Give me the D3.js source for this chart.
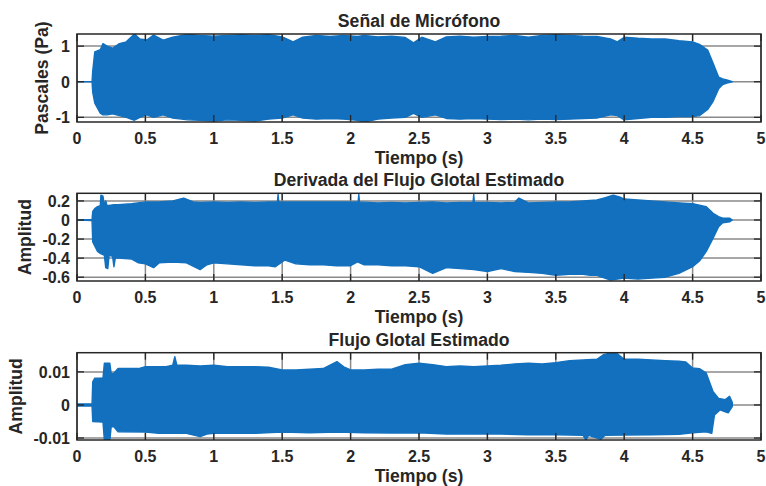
<!DOCTYPE html>
<html>
<head>
<meta charset="utf-8">
<script src="https://cdn.jsdelivr.net/npm/d3@7"></script>
<style>
html,body{margin:0;padding:0;background:#fff;}
svg{display:block;}
text{font-family:"Liberation Sans",Arial,Helvetica,sans-serif;font-weight:bold;fill:#262626;}
</style>
</head>
<body>
<svg id="chart" width="766" height="486"></svg>
<script>
// ---------- DATA ----------
const titles = ["Señal de Micrófono", "Derivada del Flujo Glotal Estimado", "Flujo Glotal Estimado"];
const yLabels = ["Pascales (Pa)", "Amplitud", "Amplitud"];
const xLabel = "Tiempo (s)";
const xTicks = [0, 0.5, 1, 1.5, 2, 2.5, 3, 3.5, 4, 4.5, 5];
const micTicks = [-1, 0, 1];
const derivTicks = [-0.6, -0.4, -0.2, 0, 0.2];
const flowTicks = [-0.01, 0, 0.01];
const micLimits = [-1.13, 1.34];
const derivLimits = [-0.64, 0.28];
const flowLimits = [-0.0106, 0.0158];

// envelopes of the waveforms: [time (s), value]
const micUpper = [[0,0],[0.11,0],[0.115,0.3],[0.13,0.84],[0.17,0.9],[0.19,1.07],[0.22,1.0],[0.26,0.94],[0.31,1.07],[0.36,1.12],[0.42,1.34],[0.46,1.2],[0.51,1.17],[0.56,1.31],[0.63,1.17],[0.7,1.25],[0.81,1.33],[0.9,1.3],[1.0,1.28],[1.1,1.3],[1.2,1.32],[1.3,1.3],[1.4,1.32],[1.5,1.26],[1.58,1.12],[1.65,1.25],[1.75,1.3],[1.85,1.27],[1.95,1.3],[2.05,1.27],[2.1,1.3],[2.2,1.26],[2.3,1.28],[2.4,1.24],[2.46,1.09],[2.52,1.25],[2.62,1.12],[2.7,1.26],[2.8,1.28],[2.9,1.25],[3.0,1.27],[3.1,1.28],[3.2,1.3],[3.3,1.25],[3.4,1.3],[3.5,1.32],[3.6,1.3],[3.7,1.28],[3.8,1.27],[3.9,1.2],[3.95,1.12],[4.0,1.25],[4.1,1.22],[4.2,1.2],[4.3,1.2],[4.4,1.15],[4.5,1.12],[4.55,1.05],[4.61,0.89],[4.65,0.52],[4.69,0.13],[4.72,0.08],[4.75,0.05],[4.79,0.0]];
const micLower = [[0,0],[0.11,0],[0.115,-0.3],[0.13,-0.6],[0.17,-0.88],[0.19,-0.93],[0.22,-0.93],[0.26,-0.9],[0.31,-0.95],[0.36,-1.0],[0.42,-1.08],[0.46,-1.0],[0.51,-0.93],[0.56,-1.0],[0.63,-0.93],[0.7,-1.02],[0.81,-1.07],[0.9,-1.08],[1.0,-1.1],[1.1,-1.07],[1.2,-1.08],[1.3,-1.1],[1.4,-1.05],[1.5,-1.02],[1.58,-0.93],[1.65,-1.02],[1.75,-1.05],[1.85,-1.03],[1.95,-1.05],[2.05,-1.08],[2.1,-1.13],[2.2,-1.05],[2.3,-1.02],[2.4,-1.0],[2.46,-0.89],[2.52,-1.0],[2.62,-0.93],[2.7,-1.03],[2.8,-1.05],[2.9,-1.03],[3.0,-1.05],[3.1,-1.06],[3.2,-1.05],[3.3,-1.07],[3.4,-1.05],[3.5,-1.06],[3.6,-1.05],[3.7,-1.03],[3.8,-1.02],[3.9,-0.93],[3.95,-0.95],[4.0,-1.07],[4.1,-1.03],[4.2,-1.0],[4.3,-1.0],[4.4,-0.98],[4.5,-0.98],[4.55,-0.95],[4.61,-0.78],[4.65,-0.55],[4.69,-0.2],[4.72,-0.08],[4.75,-0.04],[4.79,0]];

const derivUpper = [[0,0],[0.11,0.005],[0.115,0.09],[0.13,0.12],[0.15,0.14],[0.17,0.15],[0.175,0.26],[0.19,0.25],[0.2,0.15],[0.21,0.2],[0.22,0.15],[0.27,0.16],[0.3,0.16],[0.4,0.17],[0.5,0.19],[0.6,0.19],[0.7,0.2],[0.78,0.23],[0.85,0.19],[0.9,0.185],[1.0,0.19],[1.1,0.185],[1.2,0.19],[1.3,0.185],[1.4,0.19],[1.465,0.19],[1.47,0.27],[1.475,0.19],[1.6,0.19],[1.7,0.19],[1.8,0.19],[1.9,0.19],[2.0,0.19],[2.055,0.19],[2.06,0.27],[2.065,0.19],[2.2,0.18],[2.3,0.185],[2.4,0.18],[2.5,0.185],[2.6,0.19],[2.7,0.18],[2.8,0.185],[2.895,0.185],[2.9,0.27],[2.905,0.185],[3.0,0.185],[3.1,0.18],[3.2,0.185],[3.23,0.23],[3.3,0.18],[3.4,0.185],[3.5,0.19],[3.6,0.19],[3.7,0.2],[3.8,0.21],[3.85,0.23],[3.92,0.26],[3.97,0.24],[4.0,0.22],[4.1,0.21],[4.2,0.2],[4.3,0.19],[4.4,0.18],[4.5,0.17],[4.6,0.14],[4.65,0.07],[4.69,0.035],[4.72,0.02],[4.77,0.02],[4.79,0]];
const derivLower = [[0,0],[0.11,-0.005],[0.115,-0.23],[0.15,-0.33],[0.17,-0.35],[0.2,-0.37],[0.21,-0.5],[0.225,-0.51],[0.235,-0.37],[0.26,-0.38],[0.27,-0.49],[0.28,-0.4],[0.3,-0.4],[0.4,-0.41],[0.45,-0.45],[0.5,-0.46],[0.56,-0.5],[0.6,-0.45],[0.7,-0.44],[0.8,-0.45],[0.9,-0.52],[0.95,-0.47],[1.0,-0.45],[1.1,-0.46],[1.2,-0.47],[1.3,-0.48],[1.4,-0.48],[1.45,-0.49],[1.52,-0.42],[1.6,-0.46],[1.7,-0.47],[1.8,-0.47],[1.9,-0.48],[2.0,-0.48],[2.05,-0.44],[2.1,-0.47],[2.2,-0.47],[2.3,-0.48],[2.4,-0.48],[2.5,-0.49],[2.6,-0.56],[2.7,-0.5],[2.8,-0.51],[2.9,-0.52],[3.0,-0.54],[3.1,-0.51],[3.2,-0.54],[3.3,-0.55],[3.4,-0.56],[3.5,-0.58],[3.6,-0.57],[3.7,-0.57],[3.75,-0.58],[3.8,-0.58],[3.9,-0.63],[4.0,-0.61],[4.1,-0.62],[4.2,-0.61],[4.3,-0.6],[4.4,-0.56],[4.5,-0.49],[4.55,-0.43],[4.6,-0.33],[4.65,-0.19],[4.69,-0.07],[4.72,-0.03],[4.77,-0.02],[4.79,0]];

const flowUpper = [[0,0.0003],[0.11,0.0003],[0.115,0.007],[0.13,0.0081],[0.19,0.0082],[0.2,0.0126],[0.24,0.0126],[0.25,0.0095],[0.27,0.0096],[0.3,0.011],[0.45,0.011],[0.5,0.0116],[0.65,0.0116],[0.7,0.012],[0.715,0.0146],[0.73,0.012],[0.8,0.012],[0.9,0.0118],[1.0,0.012],[1.1,0.0116],[1.3,0.0116],[1.4,0.0114],[1.5,0.0106],[1.6,0.0106],[1.7,0.0108],[1.8,0.011],[1.9,0.0131],[1.95,0.0115],[2.0,0.0106],[2.1,0.0106],[2.2,0.0108],[2.3,0.0108],[2.4,0.0122],[2.5,0.0126],[2.6,0.0122],[2.7,0.0116],[2.8,0.0118],[2.9,0.0116],[3.0,0.0118],[3.1,0.012],[3.2,0.0124],[3.3,0.0126],[3.4,0.0124],[3.5,0.0128],[3.6,0.0134],[3.7,0.0136],[3.8,0.0138],[3.85,0.0152],[3.9,0.0157],[3.95,0.0155],[4.0,0.0138],[4.1,0.0138],[4.2,0.0136],[4.3,0.0134],[4.4,0.0132],[4.45,0.013],[4.5,0.0112],[4.55,0.011],[4.6,0.0096],[4.65,0.004],[4.69,0.002],[4.74,0.0016],[4.77,0.0026],[4.79,0.0008]];
const flowLower = [[0,-0.0003],[0.11,-0.0003],[0.115,-0.005],[0.19,-0.0052],[0.2,-0.0106],[0.24,-0.0106],[0.25,-0.0066],[0.27,-0.0066],[0.3,-0.0081],[0.5,-0.0082],[0.6,-0.0086],[0.8,-0.0086],[0.9,-0.0096],[0.95,-0.0088],[1.0,-0.0086],[1.3,-0.0086],[1.5,-0.0082],[1.7,-0.0084],[1.9,-0.0082],[2.1,-0.0084],[2.3,-0.0085],[2.5,-0.0084],[2.7,-0.0088],[2.9,-0.0087],[3.1,-0.0088],[3.3,-0.009],[3.5,-0.009],[3.7,-0.0092],[3.72,-0.0106],[3.74,-0.0092],[3.83,-0.0104],[3.86,-0.0092],[4.0,-0.0091],[4.2,-0.009],[4.4,-0.0089],[4.5,-0.0084],[4.6,-0.0081],[4.64,-0.0086],[4.66,-0.003],[4.7,-0.0015],[4.76,-0.0024],[4.79,-0.0005]];

// ---------- DRAWING ----------
const svg = d3.select("#chart");
const left = 77, right = 761;
const boxes = [
  {top: 34, bottom: 122, lim: micLimits, ticks: micTicks, up: micUpper, lo: micLower, ylabX: 48},
  {top: 193.3, bottom: 281, lim: derivLimits, ticks: derivTicks, up: derivUpper, lo: derivLower, ylabX: 31.4},
  {top: 352.7, bottom: 440, lim: flowLimits, ticks: flowTicks, up: flowUpper, lo: flowLower, ylabX: 22.4}
];
const blue = "#1270BE";
const axisCol = "#262626";
const gridCol = "#8a8a8a";
const fmt = v => {
  let s = d3.format("~g")(v);
  if (Math.abs(v) < 1e-12) s = "0";
  return s.replace("−", "-");
};

boxes.forEach((b, i) => {
  const x = d3.scaleLinear().domain([0, 5]).range([left, right]);
  const y = d3.scaleLinear().domain(b.lim).range([b.bottom, b.top]);
  const g = svg.append("g");
  const clipId = "clip" + i;
  svg.append("clipPath").attr("id", clipId).append("rect")
    .attr("x", left).attr("y", b.top).attr("width", right - left).attr("height", b.bottom - b.top);

  // grid
  g.append("g").selectAll("line").data(xTicks).join("line")
    .attr("x1", d => x(d)).attr("x2", d => x(d)).attr("y1", b.top).attr("y2", b.bottom)
    .attr("stroke", gridCol).attr("stroke-width", 1.5);
  g.append("g").selectAll("line").data(b.ticks).join("line")
    .attr("x1", left).attr("x2", right).attr("y1", d => y(d)).attr("y2", d => y(d))
    .attr("stroke", gridCol).attr("stroke-width", 1.5);

  // waveform envelope
  const pts = b.up.concat(b.lo.slice().reverse());
  const line = d3.line().x(d => x(d[0])).y(d => y(d[1]));
  g.append("path").attr("d", line(pts) + "Z")
    .attr("clip-path", `url(#${clipId})`)
    .attr("fill", blue).attr("stroke", blue).attr("stroke-width", 1.4).attr("stroke-linejoin", "round");

  // ticks (inside) on all four sides
  const tl = 7;
  const tk = g.append("g").attr("stroke", axisCol).attr("stroke-width", 1.3);
  xTicks.forEach(t => {
    tk.append("line").attr("x1", x(t)).attr("x2", x(t)).attr("y1", b.bottom).attr("y2", b.bottom - tl);
    tk.append("line").attr("x1", x(t)).attr("x2", x(t)).attr("y1", b.top).attr("y2", b.top + tl);
  });
  b.ticks.forEach(t => {
    tk.append("line").attr("x1", left).attr("x2", left + tl).attr("y1", y(t)).attr("y2", y(t));
    tk.append("line").attr("x1", right).attr("x2", right - tl).attr("y1", y(t)).attr("y2", y(t));
  });

  // box
  g.append("rect").attr("x", left).attr("y", b.top).attr("width", right - left).attr("height", b.bottom - b.top)
    .attr("fill", "none").attr("stroke", axisCol).attr("stroke-width", 1.5);

  // tick labels
  g.append("g").selectAll("text").data(xTicks).join("text")
    .attr("x", d => x(d)).attr("y", b.bottom + 21.5)
    .attr("text-anchor", "middle").attr("font-size", 16).text(d => fmt(d));
  g.append("g").selectAll("text").data(b.ticks).join("text")
    .attr("x", left - 7).attr("y", d => y(d)).attr("dy", "0.36em")
    .attr("text-anchor", "end").attr("font-size", 16).text(d => fmt(d));

  // labels
  g.append("text").attr("x", (left + right) / 2).attr("y", b.bottom + 41.5)
    .attr("text-anchor", "middle").attr("font-size", 17.6).text(xLabel);
  g.append("text").attr("x", (left + right) / 2).attr("y", b.top - 7)
    .attr("text-anchor", "middle").attr("font-size", 17.6).text(titles[i]);
  g.append("text").attr("transform", `translate(${b.ylabX},${(b.top + b.bottom) / 2}) rotate(-90)`)
    .attr("text-anchor", "middle").attr("font-size", 17.6).text(yLabels[i]);
});
</script>
</body>
</html>
